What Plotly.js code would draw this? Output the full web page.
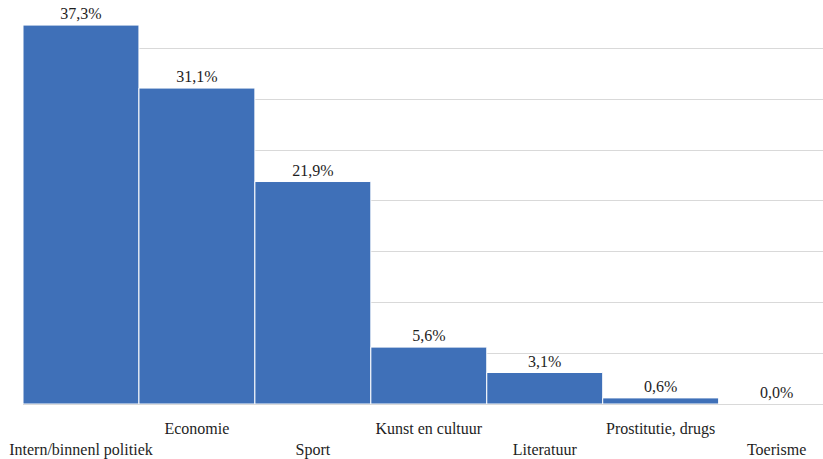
<!DOCTYPE html>
<html>
<head>
<meta charset="utf-8">
<script src="https://cdn.plot.ly/plotly-3.0.1.min.js"></script>
<style>
  html, body { margin: 0; padding: 0; background: #fff; overflow: hidden; }
  #chart { width: 823px; height: 459px; }
</style>
</head>
<body>
<div id="chart"></div>
<script>
// Share of articles per topic (%)
const categories = [
  "Intern/binnenl politiek",
  "Economie",
  "Sport",
  "Kunst en cultuur",
  "Literatuur",
  "Prostitutie, drugs",
  "Toerisme"
];
const shares = [37.3, 31.1, 21.9, 5.6, 3.1, 0.6, 0.0];

// Labels alternate between two rows so the long names do not collide
const tickLabels = categories.map((c, i) => (i % 2 === 0 ? "&nbsp;<br>" + c : c));
const valueLabels = shares.map(v => v.toFixed(1).replace(".", ",") + "%");
const positions = categories.map((_, i) => i);

const serif = "'Liberation Serif', 'Times New Roman', serif";

const trace = {
  type: "bar",
  x: positions,
  y: shares,
  text: valueLabels,
  textposition: "outside",
  cliponaxis: false,
  textfont: { family: serif, size: 16, color: "#1e1e1e" },
  marker: { color: "#3f70b8", line: { color: "#ffffff", width: 1 } },
  hoverinfo: "none"
};

const layout = {
  width: 823,
  height: 459,
  margin: { l: 22.5, r: 0, t: 0, b: 54.5 },
  paper_bgcolor: "#ffffff",
  plot_bgcolor: "#ffffff",
  bargap: 0,
  showlegend: false,
  font: { family: serif, size: 16, color: "#1e1e1e" },
  xaxis: {
    range: [-0.5, 6.4],
    tickmode: "array",
    tickvals: positions,
    ticktext: tickLabels,
    ticks: "",
    showgrid: false,
    zeroline: false,
    showline: true,
    linecolor: "#d9d9d9",
    linewidth: 1,
    ticklabelstandoff: 10,
    tickfont: { family: serif, size: 16, color: "#1e1e1e" }
  },
  yaxis: {
    range: [0, 39.77],
    dtick: 5,
    showgrid: true,
    gridcolor: "#d9d9d9",
    gridwidth: 1,
    zeroline: false,
    showticklabels: false,
    ticks: ""
  }
};

Plotly.newPlot("chart", [trace], layout, { staticPlot: true, displayModeBar: false });
</script>
</body>
</html>
